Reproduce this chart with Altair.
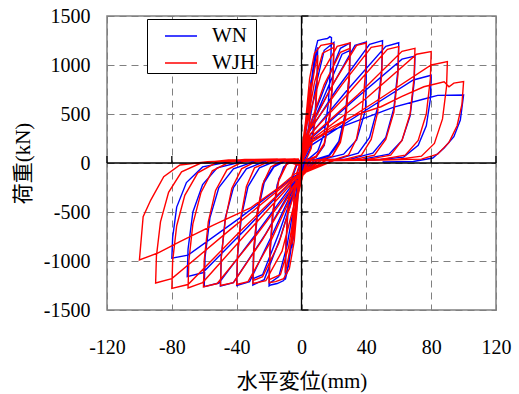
import altair as alt
import pandas as pd

# Axis ticks
x_ticks = [-120, -80, -40, 0, 40, 80, 120]
y_ticks = [-1500, -1000, -500, 0, 500, 1000, 1500]
x_marks = [-120, -80, -40, 40, 80, 120]
y_marks = [-1500, -1000, -500, 500, 1000, 1500]

series_names = ["WN", "WJH"]
series_colors = ["#0000FF", "#FF0000"]

# WN: load (kN) vs. horizontal displacement (mm), traced cycle by cycle
wn_path = [
    (0, 0), (1.5, 230), (3, 430), (2.6, 300), (1.8, 150), (0.8, 40), (0, 0),
    (-1.5, -240), (-3, -440), (-2.6, -300), (-1.8, -140), (-0.8, -30), (0, 0),
    (1, 120), (3, 450), (5, 740), (6, 850), (5.5, 600), (4.3, 300), (2.5, 100), (0.5, 20),
    (-1, -130), (-3, -470), (-5, -760), (-6, -870), (-5.5, -620), (-4.3, -300), (-2.5, -90), (-0.5, 10),
    (1, 100), (4, 480), (7, 880), (9, 1100), (10, 1180), (9.6, 850), (8.2, 450), (5.5, 150), (2, 40),
    (-1, -100), (-4, -500), (-7, -900), (-9, -1120), (-10, -1190), (-9.6, -850), (-8.2, -450), (-5.5, -140), (-2, 20),
    (0, 20), (3, 350), (6, 820), (8.5, 1150), (10, 1250), (13, 1262), (16, 1270), (17.5, 1290), (18.5, 1280),
    (18, 1000), (16.5, 600), (14, 300), (10, 120), (5, 50), (1, 20),
    (-2, -200), (-5, -700), (-8, -1050), (-11, -1200), (-15, -1230), (-19, -1245), (-20, -1255),
    (-19.5, -950), (-18, -550), (-15, -220), (-11, -40), (-6, 25), (-2, 30),
    (-1, -20), (4, 330), (9, 800), (14, 1150), (20, 1230),
    (19.5, 900), (17.5, 480), (14, 180), (9, 60), (3, 30),
    (-2, -180), (-9, -850), (-14, -1160), (-20, -1230),
    (-19.5, -900), (-17.5, -480), (-14, -160), (-9, 0), (-4, 25), (-1, 25),
    (-1, -20), (4, 330), (14, 760), (24, 1170), (30, 1225),
    (29.5, 900), (27, 500), (23, 220), (17, 80), (9, 40), (2, 30),
    (-3, -220), (-13, -760), (-23, -1190), (-30, -1245),
    (-29.5, -920), (-27, -500), (-23, -200), (-17, -40), (-10, 20), (-3, 30),
    (-1, -20), (4, 300), (15, 720), (25, 1110), (30, 1150),
    (29.5, 860), (27, 470), (23, 200), (17, 70), (9, 35), (2, 30),
    (-3, -200), (-14, -720), (-24, -1140), (-30, -1180),
    (-29.5, -880), (-27, -470), (-23, -180), (-17, -30), (-10, 20), (-3, 30),
    (-1, -20), (4, 320), (18, 760), (33, 1200), (40, 1235),
    (40, 950), (39.5, 540), (34, 235), (26, 90), (16, 50), (5, 30),
    (-3, -190), (-18, -730), (-32, -1210), (-40, -1250),
    (-39.5, -950), (-37, -540), (-33, -240), (-26, -50), (-16, 20), (-5, 30),
    (-1, -20), (4, 300), (22, 760), (42, 1210), (50, 1248),
    (49.5, 960), (47, 570), (42, 260), (35, 100), (22, 40), (6, 30),
    (-3, -170), (-22, -720), (-42, -1220), (-50, -1255),
    (-49.5, -960), (-47, -560), (-42, -250), (-34, -60), (-22, 20), (-6, 30),
    (-1, -20), (5, 280), (28, 740), (52, 1190), (60, 1227),
    (59.5, 950), (57, 560), (52, 260), (44, 100), (30, 40), (8, 30),
    (-3, -160), (-27, -700), (-51, -1225), (-60, -1262),
    (-59.5, -960), (-56.5, -560), (-51, -250), (-42, -60), (-28, 20), (-8, 30),
    (-1, -20), (5, 240), (33, 650), (62, 1060), (70, 1090),
    (69.5, 820), (67, 480), (62, 230), (54, 90), (38, 40), (10, 30),
    (-4, -150), (-33, -650), (-61, -1120), (-70.5, -1160),
    (-70, -880), (-67, -500), (-61, -220), (-52, -50), (-35, 20), (-10, 30),
    (-1, -20), (5, 170), (37, 510), (69, 847), (80, 895),
    (79.5, 650), (77, 380), (72, 180), (63, 60), (45, 30), (12, 25),
    (-4, -130), (-38, -560), (-70, -940), (-80, -972),
    (-79.5, -760), (-77, -450), (-71, -200), (-61, -40), (-42, 20), (-12, 30),
    (-1, -20), (6, 235), (20, 340), (36, 440), (57, 570), (75, 650), (84, 690), (100, 694),
    (98, 439), (94, 268), (88, 153), (81, 51), (69, 15), (50, 10),
]

# WJH: load (kN) vs. horizontal displacement (mm), traced cycle by cycle
wjh_path = [
    (0, 0), (1.5, 240), (3, 450), (2.6, 310), (1.8, 150), (0.8, 40), (0, 0),
    (-1.5, -230), (-3, -440), (-2.6, -300), (-1.8, -140), (-0.8, -30), (0, 0),
    (1, 140), (3, 460), (5, 720), (6, 820), (5.5, 580), (4.3, 280), (2.5, 90), (0.5, 20),
    (-1, -140), (-3, -460), (-5, -730), (-6, -830), (-5.5, -600), (-4.3, -290), (-2.5, -80), (-0.5, 10),
    (0, 0), (2, 260), (5, 650), (8, 950), (10, 1100), (9.6, 800), (8.3, 420), (6, 150), (3, 40), (0.5, 15),
    (-2, -260), (-5, -660), (-8, -960), (-10, -1120), (-9.6, -820), (-8.3, -420), (-6, -140), (-3, 0), (-0.5, 15),
    (-1, -25), (2.5, 420), (5, 860), (8, 1120), (12, 1200), (19, 1221), (20, 1210),
    (19.5, 900), (17.5, 500), (14, 200), (9, 70), (3, 25),
    (-2, -320), (-4.5, -800), (-7.5, -1080), (-11, -1180), (-16, -1210), (-20, -1220),
    (-19.5, -920), (-17.5, -500), (-14, -180), (-9, -10), (-3, 25),
    (-1, -25), (3, 360), (8, 820), (13, 1120), (20, 1180),
    (19.5, 880), (17.5, 480), (14, 190), (9, 60), (3, 25),
    (-2, -260), (-8, -860), (-13, -1140), (-20, -1190),
    (-19.5, -900), (-17.5, -480), (-14, -170), (-9, 0), (-3, 30),
    (-1, -25), (3, 380), (12, 900), (22, 1190), (30, 1225),
    (29.5, 920), (27.5, 520), (24, 230), (19, 70), (12, 35), (4, 25),
    (-2, -260), (-12, -900), (-22, -1200), (-30, -1230),
    (-29.5, -940), (-27.5, -540), (-24, -220), (-19, -40), (-12, 20), (-3, 35),
    (-1, -25), (4, 330), (14, 800), (24, 1130), (30, 1170),
    (29.5, 870), (27.5, 490), (24, 210), (19, 70), (12, 35), (4, 25),
    (-3, -230), (-14, -820), (-24, -1160), (-30, -1200),
    (-29.5, -900), (-27.5, -520), (-24, -220), (-19, -40), (-12, 20), (-3, 35),
    (-1, -25), (5.6, 370), (20, 820), (34, 1200), (40, 1225),
    (39.5, 920), (37.5, 540), (34, 250), (29, 80), (20, 35), (6, 25),
    (-3, -220), (-19, -800), (-33, -1210), (-40, -1240),
    (-39.5, -950), (-37.5, -560), (-34, -240), (-29, -50), (-20, 15), (-10, 35), (-2, 40),
    (-1, -25), (5, 340), (25, 800), (43, 1180), (50, 1200),
    (49.5, 900), (47, 520), (43, 240), (37, 80), (26, 35), (8, 25),
    (-3, -200), (-24, -780), (-42, -1220), (-50, -1250),
    (-49.5, -960), (-47, -580), (-43, -260), (-37, -60), (-28, 15), (-16, 35), (-4, 40),
    (-1, -25), (5.6, 300), (30, 730), (53, 1160), (60, 1187),
    (59.5, 900), (57, 520), (52, 240), (45, 80), (32, 35), (10, 25),
    (-3, -190), (-29, -760), (-52, -1230), (-60.5, -1265),
    (-60, -990), (-57.5, -600), (-53, -280), (-46, -70), (-36, 15), (-22, 35), (-6, 40),
    (-1, -25), (5.6, 260), (35, 700), (62, 1140), (70, 1170),
    (69.5, 880), (67, 500), (62, 230), (55, 80), (40, 35), (12, 25),
    (-4, -170), (-34, -720), (-61, -1220), (-70, -1275),
    (-69.5, -1000), (-67, -620), (-62, -300), (-55, -80), (-44, 15), (-28, 35), (-8, 40),
    (-1, -25), (5.6, 230), (40, 660), (71, 1110), (80, 1136),
    (79.5, 860), (77, 500), (72, 230), (64, 80), (48, 35), (15, 25),
    (-4, -150), (-38, -700), (-70, -1240), (-80, -1279),
    (-79.5, -1000), (-77, -640), (-72, -330), (-64, -100), (-52, 10), (-35, 35), (-10, 40),
    (-1, -25), (5.6, 204), (45, 620), (80, 1000), (90, 1034),
    (89.5, 780), (87, 450), (82, 200), (74, 70), (58, 35), (20, 25),
    (-4, -140), (-44, -680), (-80, -1180), (-90, -1225),
    (-89.5, -950), (-87, -600), (-82, -300), (-74, -90), (-62, 0), (-45, 30), (-15, 40),
    (-1, -25), (6, 210), (18, 360), (32, 480), (49, 574), (62, 680), (75.5, 778), (88, 829),
    (91, 778), (94, 815), (100, 830),
    (99, 600), (96, 380), (91, 210), (84, 90), (74, 40), (50, 30), (20, 25),
    (-4, -110), (-14, -250), (-31.5, -459), (-54.4, -633), (-75, -803), (-89, -921), (-100, -990),
    (-97.7, -548), (-93, -378), (-85, -140), (-75, -20), (-58, 13), (-30, 30), (-5, 40),
]


def to_frame(name, path):
    return pd.DataFrame(
        {
            "series": name,
            "disp": [p[0] for p in path],
            "load": [p[1] for p in path],
            "step": list(range(len(path))),
        }
    )


wn_df = to_frame("WN", wn_path)
wjh_df = to_frame("WJH", wjh_path)

serif = "Liberation Serif"
cjk = "Liberation Serif, Noto Sans CJK JP"

x_scale = alt.Scale(domain=[-120, 120], nice=False, zero=False)
y_scale = alt.Scale(domain=[-1500, 1500], nice=False, zero=False)

x_axis = alt.Axis(
    values=x_ticks,
    title="水平変位(mm)",
    grid=True,
    gridColor="#808080",
    gridDash=[7, 5],
    gridWidth=1,
    ticks=False,
    tickSize=0,
    domain=False,
    labelFont=serif,
    labelFontSize=20,
    labelColor="black",
    labelPadding=27,
    labelExpr="toString(datum.value)",
    labelFlush=False,
    titleFont=cjk,
    titleFontSize=21,
    titleFontWeight="normal",
    titleColor="black",
    titleY=71,
    titleBaseline="middle",
)

y_axis = alt.Axis(
    values=y_ticks,
    title="荷重(kN)",
    grid=True,
    gridColor="#808080",
    gridDash=[7, 5],
    gridWidth=1,
    ticks=False,
    tickSize=0,
    domain=False,
    labelFont=serif,
    labelFontSize=20,
    labelColor="black",
    labelPadding=17,
    labelExpr="toString(datum.value)",
    labelFlush=False,
    titleFont=cjk,
    titleFontSize=21,
    titleFontWeight="normal",
    titleColor="black",
    titleX=-84,
    titleBaseline="middle",
    titleAngle=270,
)

color = alt.Color(
    "series:N",
    scale=alt.Scale(domain=series_names, range=series_colors),
    legend=alt.Legend(
        title=None,
        orient="none",
        legendX=40,
        legendY=3,
        symbolType="stroke",
        symbolSize=1024,
        symbolStrokeWidth=1.5,
        symbolOffset=17,
        labelFont=serif,
        labelFontSize=21,
        labelColor="black",
        labelOffset=14,
        rowPadding=0,
        padding=0,
        strokeColor="black",
        fillColor="white",
    ),
)

base_x = alt.X("disp:Q", scale=x_scale, axis=x_axis)
base_y = alt.Y("load:Q", scale=y_scale, axis=y_axis)

wn_line = alt.Chart(wn_df).mark_line(strokeWidth=1.4).encode(
    x=base_x, y=base_y, color=color, order="step:Q"
)
wjh_line = alt.Chart(wjh_df).mark_line(strokeWidth=1.4).encode(
    x=base_x, y=base_y, color=color, order="step:Q"
)

# Black zero axes with short ticks along them
zero_v = alt.Chart(pd.DataFrame({"v": [0]})).mark_rule(color="black", strokeWidth=1.3).encode(
    x=alt.X("v:Q", scale=x_scale)
)
zero_h = alt.Chart(pd.DataFrame({"v": [0]})).mark_rule(color="black", strokeWidth=1.3).encode(
    y=alt.Y("v:Q", scale=y_scale)
)
y_tick_marks = alt.Chart(pd.DataFrame({"v": y_marks})).mark_rule(color="black", strokeWidth=1.3).encode(
    y=alt.Y("v:Q", scale=y_scale), x=alt.datum(0), x2=alt.datum(4.3)
)
x_tick_marks = alt.Chart(pd.DataFrame({"v": x_marks})).mark_rule(color="black", strokeWidth=1.3).encode(
    x=alt.X("v:Q", scale=x_scale), y=alt.datum(0), y2=alt.datum(71)
)

chart = (
    alt.layer(wn_line, wjh_line, zero_v, zero_h, y_tick_marks, x_tick_marks)
    .properties(
        width=389,
        height=294,
        autosize=alt.AutoSizeParams(type="none"),
        padding={"left": 107, "top": 16, "right": 23, "bottom": 84},
        background="white",
    )
    .configure_view(stroke="#808080", strokeWidth=1.5)
)

chart.save("out.html", embed_options={"renderer": "svg", "actions": False})
